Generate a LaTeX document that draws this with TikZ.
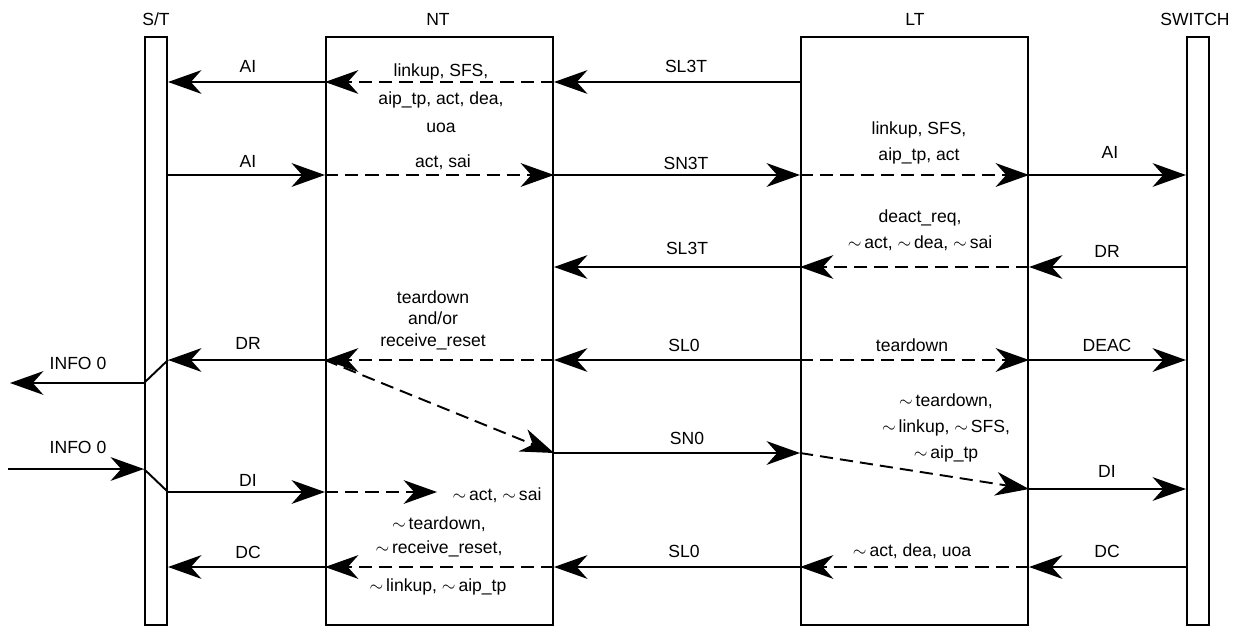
\documentclass[tikz,border=0pt]{standalone}
\usepackage{fontspec}
\setmainfont{Liberation Sans}
\usetikzlibrary{arrows.meta}
\newcommand\nsig{$\sim$\,}

\begin{document}
\begin{tikzpicture}[x=0.02cm,y=-0.02cm,line width=1.1pt,
  box/.style={draw,line width=1.2pt,minimum height=11.76cm,inner sep=0pt},
  lab/.style={inner sep=0pt,align=center,font=\fontsize{10}{14.7}\selectfont},
  sig/.style={-{Stealth[length=19pt,width=13.5pt,inset=6pt]}},
  dsig/.style={sig,dash pattern=on 7.5pt off 4pt}]
\useasboundingbox (0,0) rectangle (1239,628);
% the units
\node[box,minimum width=0.44cm] (st) at (156,331) {};
\node[box,minimum width=4.54cm] (nt) at (439.5,331) {};
\node[box,minimum width=4.54cm] (lt) at (914.5,331) {};
\node[box,minimum width=0.44cm] (sw) at (1198,331) {};
\node[lab] (hst) at (156,19) {S/T};
\node[lab] (hnt) at (438,19) {NT};
\node[lab] (hlt) at (915,19) {LT};
\node[lab] (hsw) at (1195,19) {SWITCH};
% rows
\coordinate (r1) at (0,82);
\coordinate (r2) at (0,175);
\coordinate (r3) at (0,267);
\coordinate (r4) at (0,360);
\coordinate (r5) at (0,453);
\coordinate (r6) at (0,489);
\coordinate (r7) at (0,492);
\coordinate (r8) at (0,567);
\coordinate (io1) at (0,383);
\coordinate (io2) at (0,469);
% activation
\draw[sig] (lt.west |- r1) -- (nt.east |- r1);
\draw[dsig] (nt.east |- r1) -- (nt.west |- r1);
\draw[sig] (nt.west |- r1) -- (st.east |- r1);
\node[lab] (l1a) at (248,66) {AI};
\node[lab,font=\fontsize{10}{16}\selectfont] (l1b) at (441,98) {linkup, SFS,\\aip\_tp, act, dea,\\uoa};
\node[lab] (l1c) at (686,66) {SL3T};
\draw[sig] (st.east |- r2) -- (nt.west |- r2);
\draw[dsig] (nt.west |- r2) -- (nt.east |- r2);
\draw[sig] (nt.east |- r2) -- (lt.west |- r2);
\draw[dsig] (lt.west |- r2) -- (lt.east |- r2);
\draw[sig] (lt.east |- r2) -- (sw.west |- r2);
\node[lab] (l2a) at (248,161) {AI};
\node[lab] (l2b) at (443,162) {act, sai};
\node[lab] (l2c) at (686,163) {SN3T};
\node[lab] (l2d) at (919,143) {linkup, SFS,\\aip\_tp, act};
\node[lab] (l2e) at (1110,152) {AI};
% deactivation request
\draw[sig] (sw.west |- r3) -- (lt.east |- r3);
\draw[dsig] (lt.east |- r3) -- (lt.west |- r3);
\draw[sig] (lt.west |- r3) -- (nt.east |- r3);
\node[lab] (l3a) at (1107,251) {DR};
\node[lab] (l3b) at (920,230) {deact\_req,\\\nsig act, \nsig dea, \nsig sai};
\node[lab] (l3c) at (687,248) {SL3T};
% deactivation
\draw[sig] (lt.west |- r4) -- (nt.east |- r4);
\draw[dsig] (nt.east |- r4) -- (nt.west |- r4);
\draw[sig] (nt.west |- r4) -- (st.east |- r4);
\draw[dsig] (lt.west |- r4) -- (lt.east |- r4);
\draw[sig] (lt.east |- r4) -- (sw.west |- r4);
\coordinate (iout) at (10,383);
\draw[sig] (st.east |- r4) -- (st.west |- io1) -- (iout);
\node[lab] (l4a) at (248,343) {DR};
\node[lab,font=\fontsize{10}{12.2}\selectfont] (l4b) at (433,320) {teardown\\and/or\\receive\_reset};
\node[lab] (l4c) at (684,345) {SL0};
\node[lab] (l4d) at (912,345) {teardown};
\node[lab] (l4e) at (1107,345) {DEAC};
\node[lab] (l4f) at (78,363) {INFO 0};
\draw[dsig] (nt.west |- r4) -- (nt.east |- r5);
\draw[sig] (nt.east |- r5) -- (lt.west |- r5);
\draw[dsig] (lt.west |- r5) -- (lt.east |- r6);
\draw[sig] (lt.east |- r6) -- (sw.west |- r6);
\node[lab] (l5a) at (687,438) {SN0};
\node[lab] (l5b) at (946,428) {\nsig teardown,\\\nsig linkup, \nsig SFS,\\\nsig aip\_tp};
\node[lab] (l5c) at (1107,471) {DI};
\coordinate (iin) at (8,469);
\coordinate (ntstop) at (437,492);
\draw[sig] (iin) -- (st.west |- io2);
\draw (st.west |- io2) -- (st.east |- r7);
\draw[sig] (st.east |- r7) -- (nt.west |- r7);
\draw[dsig] (nt.west |- r7) -- (ntstop);
\node[lab] (l6a) at (78,447) {INFO 0};
\node[lab] (l6b) at (248,480) {DI};
\node[lab] (l6c) at (497,495) {\nsig act, \nsig sai};
% deactivation confirm
\draw[sig] (sw.west |- r8) -- (lt.east |- r8);
\draw[dsig] (lt.east |- r8) -- (lt.west |- r8);
\draw[sig] (lt.west |- r8) -- (nt.east |- r8);
\draw[dsig] (nt.east |- r8) -- (nt.west |- r8);
\draw[sig] (nt.west |- r8) -- (st.east |- r8);
\node[lab] (l7a) at (1107,551) {DC};
\node[lab] (l7b) at (912,551) {\nsig act, dea, uoa};
\node[lab] (l7c) at (684,551) {SL0};
\node[lab,font=\fontsize{10}{13.6}\selectfont] (l7d) at (439,537) {\nsig teardown,\\\nsig receive\_reset,};
\node[lab] (l7e) at (438,587) {\nsig linkup, \nsig aip\_tp};
\node[lab] (l7f) at (248,552) {DC};
\end{tikzpicture}
\end{document}
